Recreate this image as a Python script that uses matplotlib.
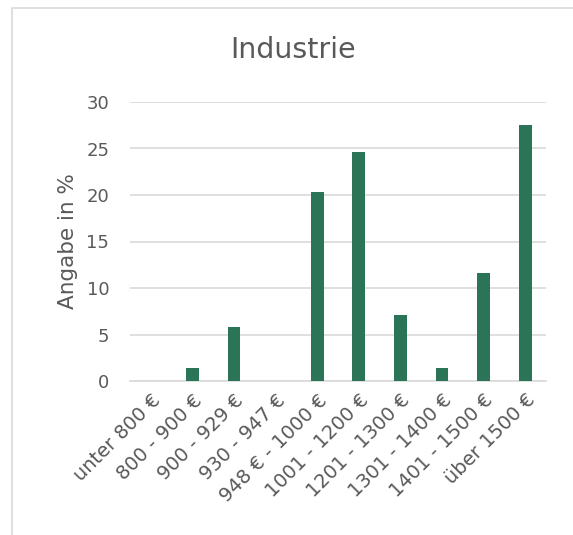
import matplotlib.pyplot as plt
from matplotlib.patches import Rectangle

# Data
categories = ["unter 800 €", "800 - 900 €", "900 - 929 €", "930 - 947 €",
              "948 € - 1000 €", "1001 - 1200 €", "1201 - 1300 €",
              "1301 - 1400 €", "1401 - 1500 €", "über 1500 €"]
values = [0, 1.4, 5.8, 0, 20.3, 24.6, 7.1, 1.4, 11.6, 27.5]
yticks = [0, 5, 10, 15, 20, 25, 30]

text_color = "#595959"
bar_color = "#2C7457"
grid_color = "#D9D9D9"

plt.rcParams['font.family'] = ['DejaVu Sans']

fig = plt.figure(figsize=(5.73, 5.35), dpi=100)
ax = fig.add_axes([130 / 573, 1 - 381 / 535, 416 / 573, 279 / 535])

x = list(range(len(categories)))
ax.bar(x, values, width=0.31, color=bar_color, zorder=3)

ax.set_ylim(0, 30)
ax.set_xlim(-0.5, len(categories) - 0.5)
ax.set_yticks(yticks)
ax.set_xticks(x)
ax.set_xticklabels(categories, rotation=45, ha="right", rotation_mode="anchor")
ax.tick_params(axis="both", length=0, colors=text_color)
ax.tick_params(axis="x", pad=7, labelsize=14)
ax.tick_params(axis="y", pad=15, labelsize=13)

ax.grid(axis="y", color=grid_color, linewidth=1.2, zorder=0)
for s in ["top", "right", "left"]:
    ax.spines[s].set_visible(False)
ax.spines["bottom"].set_color(grid_color)
ax.spines["bottom"].set_linewidth(1.2)

ax.set_ylabel("Angabe in %", fontsize=15.5, color=text_color, labelpad=6)
fig.text(293 / 573, 1 - 50 / 535, "Industrie", ha="center", va="center",
         fontsize=20.5, color=text_color)

# chart frame
fig.patches.append(Rectangle((12 / 573, -0.05), 1.1, 1 - 8 / 535 + 0.05,
                             transform=fig.transFigure, fill=False,
                             edgecolor="#D9D9D9", linewidth=1.2))

fig.savefig("out.png", dpi=100)
